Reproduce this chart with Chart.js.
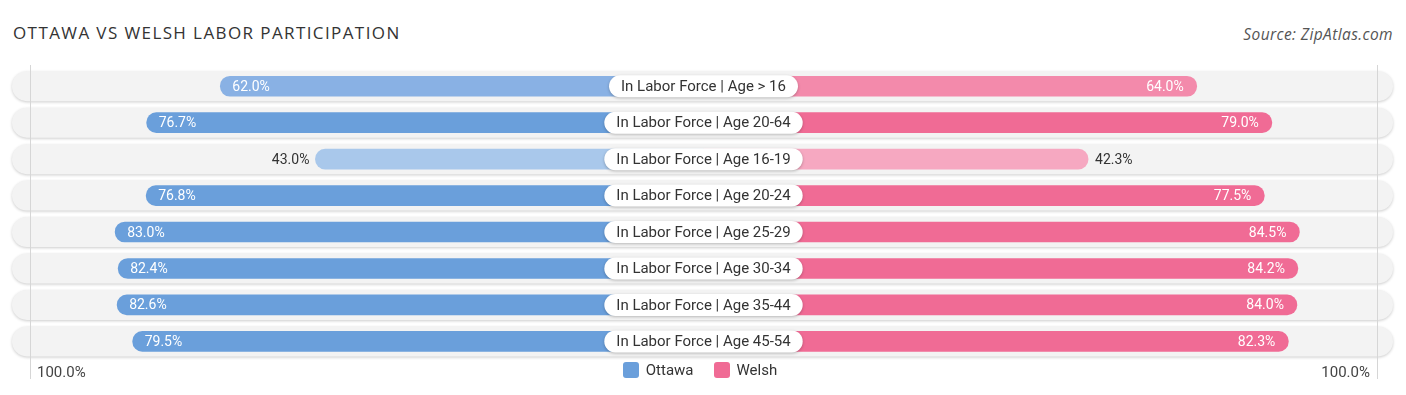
<!DOCTYPE html>
<html>
<head>
<meta charset="utf-8">
<script src="https://cdn.jsdelivr.net/npm/chart.js@4/dist/chart.umd.min.js"></script>
<style>
  body { margin: 0; background: #fff; font-family: Roboto, sans-serif; }
  #page { position: relative; width: 1406px; height: 395px; overflow: hidden; }
  #title { position: absolute; left: 13px; top: 21px; font: 17px "Open Sans", sans-serif; color: #333; letter-spacing: 1.4px; }
  #source { position: absolute; right: 13px; top: 23px; font: italic 15.5px "Open Sans", sans-serif; color: #555; letter-spacing: 0.4px; }
  #chart { position: absolute; left: 0; top: 0; }
  #legend { position: absolute; left: 0; width: 1400px; top: 361px; display: flex; justify-content: center; gap: 20px; font-size: 15px; color: #333; }
  #legend .item { display: flex; align-items: center; }
  #legend .box { width: 16px; height: 16px; border-radius: 3px; margin-right: 7px; }
</style>
</head>
<body>
<div id="page">
  <div id="title">OTTAWA VS WELSH LABOR PARTICIPATION</div>
  <div id="source">Source: ZipAtlas.com</div>
  <canvas id="chart" width="1406" height="395"></canvas>
  <div id="legend"></div>
</div>
<script>
const categories = [
  'In Labor Force | Age > 16',
  'In Labor Force | Age 20-64',
  'In Labor Force | Age 16-19',
  'In Labor Force | Age 20-24',
  'In Labor Force | Age 25-29',
  'In Labor Force | Age 30-34',
  'In Labor Force | Age 35-44',
  'In Labor Force | Age 45-54',
];
const ottawa = [62.0, 76.7, 43.0, 76.8, 83.0, 82.4, 82.6, 79.5];
const welsh = [64.0, 79.0, 42.3, 77.5, 84.5, 84.2, 84.0, 82.3];

// bars start under the centre label, so 0% sits this far from the middle
const OFFSET = 34.5;
const LIMIT = 100 + OFFSET;

const blue = ['#6a9fdb', '#89b1e4', '#a9c8eb'];
const pink = ['#f06b95', '#f38aab', '#f6a8c1'];
const shade = (pal, v) => (v >= 70 ? pal[0] : v >= 55 ? pal[1] : pal[2]);

const rowsPlugin = {
  id: 'rows',
  beforeDatasetsDraw(chart) {
    const { ctx, chartArea, scales } = chart;
    ctx.save();
    categories.forEach((c, i) => {
      const y = scales.y.getPixelForValue(i);
      ctx.shadowColor = 'rgba(0,0,0,0.2)';
      ctx.shadowBlur = 3;
      ctx.shadowOffsetY = 1;
      ctx.fillStyle = '#f3f3f3';
      ctx.beginPath();
      ctx.roundRect(chartArea.left - 18, y - 15, chartArea.right - chartArea.left + 34, 30, 15);
      ctx.fill();
    });
    ctx.shadowColor = 'transparent';
    ctx.strokeStyle = '#d6d6d6';
    ctx.lineWidth = 1;
    [chartArea.left, chartArea.right].forEach((x) => {
      ctx.beginPath();
      ctx.moveTo(Math.round(x) + 0.5, 65);
      ctx.lineTo(Math.round(x) + 0.5, 379);
      ctx.stroke();
    });
    ctx.restore();
  },
  afterDatasetsDraw(chart) {
    const { ctx, scales } = chart;
    const cx = scales.x.getPixelForValue(0);
    ctx.save();
    ctx.textBaseline = 'middle';
    categories.forEach((c, i) => {
      const y = scales.y.getPixelForValue(i);
      // centre label
      ctx.font = '15px Roboto';
      const w = ctx.measureText(c).width + 24;
      ctx.shadowColor = 'rgba(0,0,0,0.25)';
      ctx.shadowBlur = 3;
      ctx.shadowOffsetY = 1;
      ctx.fillStyle = '#fff';
      ctx.beginPath();
      ctx.roundRect(cx - w / 2, y - 11, w, 22, 11);
      ctx.fill();
      ctx.shadowColor = 'transparent';
      ctx.fillStyle = '#333';
      ctx.textAlign = 'center';
      ctx.fillText(c, cx, y + 1);

      // value labels
      ctx.font = '14px Roboto';
      const lx = scales.x.getPixelForValue(-(OFFSET + ottawa[i]));
      if (ottawa[i] >= 50) {
        ctx.fillStyle = '#fff';
        ctx.textAlign = 'left';
        ctx.fillText(ottawa[i].toFixed(1) + '%', lx + 12, y + 1);
      } else {
        ctx.fillStyle = '#333';
        ctx.textAlign = 'right';
        ctx.fillText(ottawa[i].toFixed(1) + '%', lx - 6, y + 1);
      }
      const rx = scales.x.getPixelForValue(OFFSET + welsh[i]);
      if (welsh[i] >= 50) {
        ctx.fillStyle = '#fff';
        ctx.textAlign = 'right';
        ctx.fillText(welsh[i].toFixed(1) + '%', rx - 13, y + 1);
      } else {
        ctx.fillStyle = '#333';
        ctx.textAlign = 'left';
        ctx.fillText(welsh[i].toFixed(1) + '%', rx + 7, y + 1);
      }
    });
    ctx.restore();
  }
};

const chart = new Chart('chart', {
  type: 'bar',
  data: {
    labels: categories,
    datasets: [
      {
        label: 'Ottawa',
        data: ottawa.map((v) => [0, -(OFFSET + v)]),
        backgroundColor: ottawa.map((v) => shade(blue, v)),
        borderRadius: 10,
        borderSkipped: 'start',
        barThickness: 20,
        grouped: false,
      },
      {
        label: 'Welsh',
        data: welsh.map((v) => [0, OFFSET + v]),
        backgroundColor: welsh.map((v) => shade(pink, v)),
        borderRadius: 10,
        borderSkipped: 'start',
        barThickness: 20,
        grouped: false,
      },
    ],
  },
  options: {
    indexAxis: 'y',
    responsive: false,
    animation: false,
    layout: { padding: { left: 30, right: 29, top: 68, bottom: 16 } },
    plugins: { legend: { display: false }, tooltip: { enabled: false } },
    scales: {
      x: {
        min: -LIMIT,
        max: LIMIT,
        grid: { display: false },
        border: { display: false },
        afterBuildTicks: (axis) => {
          // tick labels sit a little inside the 100% lines
          axis.ticks = [{ value: -LIMIT + 1.4 }, { value: LIMIT - 1.4 }];
        },
        ticks: {
          align: 'inner',
          padding: -3.3,
          color: '#444',
          font: { family: 'Roboto', size: 15 },
          callback: () => '100.0%',
        },
      },
      y: { display: false, offset: true },
    },
  },
  plugins: [rowsPlugin],
});

const legend = document.getElementById('legend');
chart.data.datasets.forEach((ds, i) => {
  const item = document.createElement('div');
  item.className = 'item';
  const box = document.createElement('span');
  box.className = 'box';
  box.style.background = i === 0 ? blue[0] : pink[0];
  const txt = document.createElement('span');
  txt.textContent = ds.label;
  item.append(box, txt);
  legend.appendChild(item);
});
</script>
</body>
</html>
